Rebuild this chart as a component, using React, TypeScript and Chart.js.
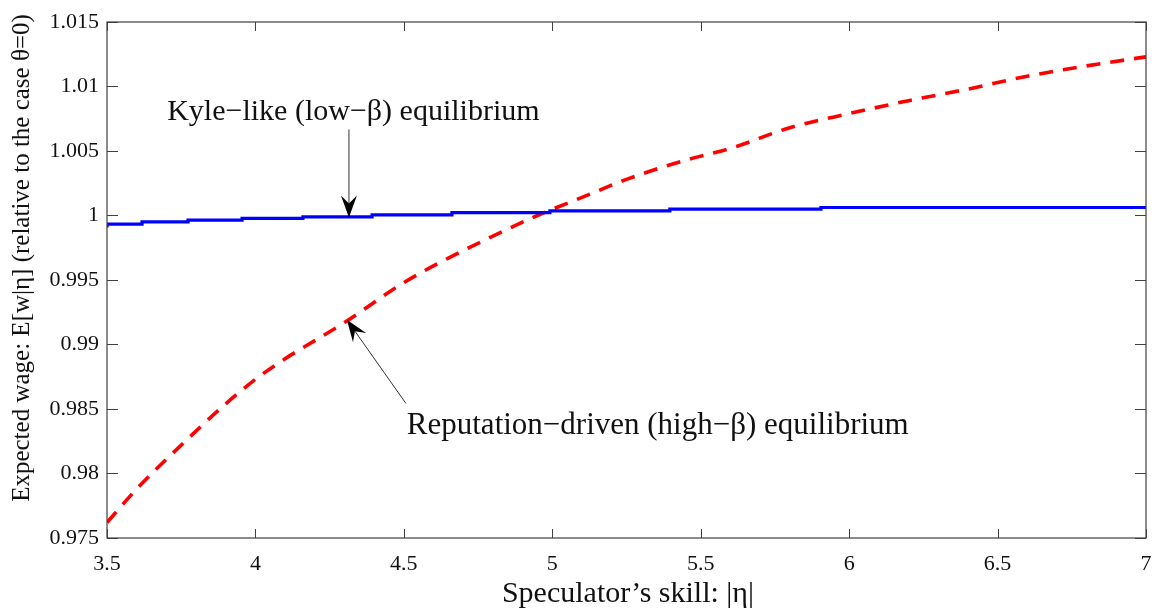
import React, { useEffect, useRef } from 'react';
import { Chart, registerables } from 'chart.js';

Chart.register(...registerables);

// Tick labels
const X_TICKS = [3.5, 4, 4.5, 5, 5.5, 6, 6.5, 7];
const Y_TICKS = [0.975, 0.98, 0.985, 0.99, 0.995, 1, 1.005, 1.01, 1.015];

// Kyle-like (low-beta) equilibrium: stepped series
const KYLE_X = [3.5, 3.618, 3.773, 3.955, 4.16, 4.393, 4.662, 4.992, 5.396, 5.905, 6.592, 7];
const KYLE_Y = [0.99907, 0.99933, 0.9995, 0.99964, 0.99977, 0.9999, 1.00005, 1.00023, 1.00036, 1.00049, 1.00062, 1.00062];

// Reputation-driven (high-beta) equilibrium
const REP_X = [3.5, 3.6, 3.75, 3.9, 4.0, 4.1, 4.2, 4.3, 4.5, 4.65, 4.8, 4.95, 5.1, 5.25, 5.45, 5.6, 5.8, 6.0, 6.2, 6.4, 6.6, 6.8, 7.0];
const REP_Y = [0.9762, 0.9788, 0.9822, 0.9854, 0.9873, 0.9889, 0.9903, 0.9917, 0.9948, 0.9967, 0.9984, 1.0, 1.0014, 1.0028, 1.0043, 1.0052, 1.0068, 1.0079, 1.0089, 1.0098, 1.0108, 1.0116, 1.0123];

const X_TITLE = 'Speculator\u2019s skill: |\u03b7|';
const Y_TITLE = 'Expected wage: E[w|\u03b7] (relative to the case \u03b8=0)';
const KYLE_LABEL = 'Kyle\u2212like (low\u2212\u03b2) equilibrium';
const REP_LABEL = 'Reputation\u2212driven (high\u2212\u03b2) equilibrium';

const FONT = '"Liberation Serif", "DejaVu Serif", serif';
const TEXT = '#111';
const FRAME = '#404040';

function drawArrow(ctx: CanvasRenderingContext2D, x0: number, y0: number, x1: number, y1: number) {
  const ang = Math.atan2(y1 - y0, x1 - x0);
  const len = 22;
  const hw = 8;
  const notch = 14;
  const bx = x1 - Math.cos(ang) * notch;
  const by = y1 - Math.sin(ang) * notch;
  ctx.save();
  ctx.strokeStyle = '#333';
  ctx.lineWidth = 1;
  ctx.beginPath();
  ctx.moveTo(x0, y0);
  ctx.lineTo(bx, by);
  ctx.stroke();
  const cx = x1 - Math.cos(ang) * len;
  const cy = y1 - Math.sin(ang) * len;
  const px = -Math.sin(ang);
  const py = Math.cos(ang);
  ctx.fillStyle = '#000';
  ctx.beginPath();
  ctx.moveTo(x1, y1);
  ctx.lineTo(cx + px * hw, cy + py * hw);
  ctx.lineTo(bx, by);
  ctx.lineTo(cx - px * hw, cy - py * hw);
  ctx.closePath();
  ctx.fill();
  ctx.restore();
}

const framePlugin = {
  id: 'frameAndNotes',
  afterDatasetsDraw(chart: any) {
    const { ctx, chartArea: a, scales } = chart;
    const x = scales.x;
    const y = scales.y;
    ctx.save();
    ctx.strokeStyle = FRAME;
    ctx.lineWidth = 1.2;
    ctx.strokeRect(a.left, a.top, a.right - a.left, a.bottom - a.top);
    ctx.lineWidth = 1;
    ctx.beginPath();
    x.ticks.forEach((t: any) => {
      const px = Math.round(x.getPixelForValue(t.value)) + 0.5;
      ctx.moveTo(px, a.bottom);
      ctx.lineTo(px, a.bottom - 9);
      ctx.moveTo(px, a.top);
      ctx.lineTo(px, a.top + 9);
    });
    y.ticks.forEach((t: any) => {
      const py = Math.round(y.getPixelForValue(t.value)) + 0.5;
      ctx.moveTo(a.left, py);
      ctx.lineTo(a.left + 11, py);
      ctx.moveTo(a.right, py);
      ctx.lineTo(a.right - 11, py);
    });
    ctx.stroke();

    // annotations
    ctx.fillStyle = TEXT;
    ctx.font = `30px ${FONT}`;
    ctx.textBaseline = 'middle';
    ctx.textAlign = 'center';
    ctx.fillText(KYLE_LABEL, x.getPixelForValue(4.33), y.getPixelForValue(1.00803));
    ctx.textAlign = 'left';
    ctx.font = `31px ${FONT}`;
    ctx.fillText(REP_LABEL, x.getPixelForValue(4.51), y.getPixelForValue(0.98373));

    drawArrow(ctx, x.getPixelForValue(4.315), y.getPixelForValue(1.00667), x.getPixelForValue(4.315), y.getPixelForValue(0.99985));
    drawArrow(ctx, x.getPixelForValue(4.507), y.getPixelForValue(0.98543), x.getPixelForValue(4.308), y.getPixelForValue(0.99192));

    // axis titles
    ctx.font = `30px ${FONT}`;
    ctx.textAlign = 'center';
    ctx.fillText(X_TITLE, 628, 594);
    ctx.save();
    ctx.translate(22, 258);
    ctx.rotate(-Math.PI / 2);
    ctx.font = `25px ${FONT}`;
    ctx.fillText(Y_TITLE, 0, 0);
    ctx.restore();
    ctx.restore();
  },
};

const fmt = (v: any) => String(Number(Number(v).toFixed(4)));

export default function App() {
  const ref = useRef<HTMLCanvasElement | null>(null);
  useEffect(() => {
    if (!ref.current) return;
    const chart = new Chart(ref.current, {
      type: 'line',
      data: {
        datasets: [
          {
            label: 'Kyle-like',
            data: KYLE_X.map((v, i) => ({ x: v, y: KYLE_Y[i] })),
            borderColor: '#0000ff',
            borderWidth: 3.2,
            pointRadius: 0,
            stepped: 'after',
            fill: false,
          },
          {
            label: 'Reputation-driven',
            data: REP_X.map((v, i) => ({ x: v, y: REP_Y[i] })),
            borderColor: '#ff0000',
            borderWidth: 3.6,
            borderDash: [14, 10],
            pointRadius: 0,
            tension: 0.3,
            cubicInterpolationMode: 'monotone',
            fill: false,
          },
        ],
      },
      options: {
        responsive: false,
        animation: false,
        events: [],
        layout: { padding: { top: 22, right: 10, left: 0, bottom: 0 } },
        plugins: { legend: { display: false }, tooltip: { enabled: false } },
        scales: {
          x: {
            type: 'linear',
            min: 3.5,
            max: 7,
            grid: { display: false, drawTicks: false },
            border: { display: false },
            afterBuildTicks: (s: any) => { s.ticks = X_TICKS.map((v) => ({ value: v })); },
            afterFit: (s: any) => { s.height = 72; s.paddingLeft = 0; s.paddingRight = 0; },
            ticks: { color: TEXT, font: { family: FONT, size: 22 }, padding: 13, maxRotation: 0, autoSkip: false, callback: fmt },
          },
          y: {
            type: 'linear',
            min: 0.975,
            max: 1.015,
            grid: { display: false, drawTicks: false },
            border: { display: false },
            afterBuildTicks: (s: any) => { s.ticks = Y_TICKS.map((v) => ({ value: v })); },
            afterFit: (s: any) => { s.width = 107; s.paddingTop = 0; s.paddingBottom = 0; },
            ticks: { color: TEXT, font: { family: FONT, size: 22 }, padding: 8, autoSkip: false, callback: fmt },
          },
        },
      },
      plugins: [framePlugin],
    } as any);
    return () => chart.destroy();
  }, []);
  return (
    <div style={{ position: 'fixed', left: 0, top: 0, width: 1156, height: 610, background: '#fff' }}>
      <canvas ref={ref} width={1156} height={610} style={{ width: 1156, height: 610, display: 'block' }} />
    </div>
  );
}
